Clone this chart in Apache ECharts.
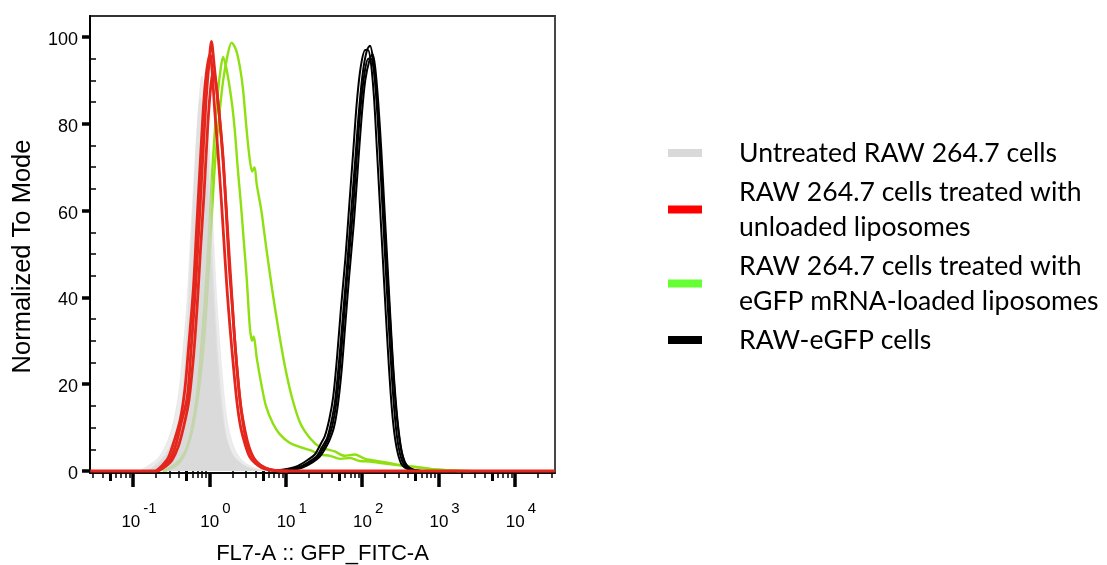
<!DOCTYPE html>
<html>
<head>
<meta charset="utf-8">
<script src="https://cdn.jsdelivr.net/npm/echarts@6/dist/echarts.min.js"></script>
<style>
html,body{margin:0;padding:0;background:#fff;}
#chart{width:1107px;height:565px;}
</style>
</head>
<body>
<div id="chart"></div>
<script>
// ---- Legend / series names ----
const seriesNames = [
  'Untreated RAW 264.7 cells',
  'RAW 264.7 cells treated with\nunloaded liposomes',
  'RAW 264.7 cells treated with\neGFP mRNA-loaded liposomes',
  'RAW-eGFP cells'
];

// ---- Axis ticks ----
const xTickMajor = [0.1, 1, 10, 100, 1000, 10000];
const xTickMid = [0.05, 0.5, 5, 50, 500, 5000];
const xTickMinor = [0.03, 0.04, 0.06, 0.07, 0.08, 0.09,
  0.2, 0.3, 0.4, 0.6, 0.7, 0.8, 0.9,
  2, 3, 4, 6, 7, 8, 9,
  20, 30, 40, 60, 70, 80, 90,
  200, 300, 400, 600, 700, 800, 900,
  2000, 3000, 4000, 6000, 7000, 8000, 9000,
  20000, 30000];
const yTickMajor = [0, 20, 40, 60, 80, 100];
const yTickMinor = [5, 10, 15, 25, 30, 35, 45, 50, 55, 65, 70, 75, 85, 90, 95];

// ---- Histogram data: x = log10(FL7-A intensity), y = % of mode ----
// Untreated (grey, 3 replicates)
const greyA_x = [-0.84, -0.71, -0.61, -0.52, -0.44, -0.37, -0.32, -0.27, -0.23, -0.18, -0.14, -0.10, -0.06, -0.02, 0.02, 0.06, 0.11, 0.17, 0.23, 0.31, 0.43, 0.60, 0.77];
const greyA_y = [0, 1, 2.5, 5, 9, 15, 25, 40, 55, 72, 84, 91, 86, 74, 58, 42, 27, 15, 7, 3.5, 1.5, 0.3, 0];
const greyB_x = [-0.91, -0.78, -0.67, -0.57, -0.49, -0.41, -0.35, -0.29, -0.25, -0.20, -0.16, -0.12, -0.08, -0.04, 0.00, 0.05, 0.10, 0.15, 0.22, 0.30, 0.40, 0.53, 0.69];
const greyB_y = [0, 1.5, 3, 6, 10, 17, 27, 40, 53, 68, 80, 86, 82, 71, 57, 40, 26, 15, 8, 4, 2, 0.6, 0];
const greyC_x = [-0.80, -0.67, -0.57, -0.48, -0.40, -0.33, -0.28, -0.23, -0.18, -0.12, -0.08, -0.06, -0.02, 0.02, 0.06, 0.11, 0.17, 0.23, 0.31, 0.40, 0.50, 0.63, 0.79];
const greyC_y = [0, 2, 4, 7, 11, 17, 26, 40, 57, 73, 81, 84, 80, 68, 52, 36, 22, 12, 6, 3, 1.5, 0.5, 0];

// Unloaded liposomes (red, 3 replicates)
const redA_x = [-1.56, -0.69, -0.61, -0.52, -0.44, -0.37, -0.29, -0.24, -0.19, -0.15, -0.10, -0.045, -0.005, 0.027, 0.06, 0.10, 0.14, 0.18, 0.22, 0.26, 0.30, 0.34, 0.39, 0.44, 0.49, 0.56, 0.62, 0.72, 0.82, 0.99, 4.52];
const redA_y = [0, 0, 1, 2.5, 6, 11, 17, 28, 40, 52, 68, 85, 94, 99, 94, 87, 80, 72, 60, 47, 38, 28, 18, 11, 6.5, 3.5, 2, 0.8, 0.2, 0, 0];
const redB_x = [-0.67, -0.58, -0.49, -0.41, -0.34, -0.27, -0.21, -0.16, -0.12, -0.07, -0.02, 0.02, 0.05, 0.08, 0.12, 0.16, 0.20, 0.24, 0.28, 0.32, 0.36, 0.41, 0.47, 0.52, 0.58, 0.65, 0.74, 0.86, 1.03];
const redB_y = [0, 1, 2.5, 5.5, 10, 16, 26, 38, 50, 64, 80, 89, 92, 90, 84, 76, 66, 55, 44, 33, 24, 15, 9, 5.5, 3, 1.6, 0.6, 0.15, 0];
const redC_x = [-0.70, -0.62, -0.54, -0.46, -0.38, -0.32, -0.27, -0.21, -0.17, -0.12, -0.07, -0.03, 0.01, 0.04, 0.07, 0.11, 0.15, 0.19, 0.23, 0.27, 0.31, 0.36, 0.41, 0.47, 0.53, 0.60, 0.69, 0.79, 0.96];
const redC_y = [0, 1.2, 3, 7, 12, 19, 29, 42, 55, 71, 86, 93, 96, 91, 83, 74, 64, 53, 42, 33, 25, 16, 10, 6, 3.2, 1.8, 0.7, 0.2, 0];

// eGFP mRNA-loaded liposomes (green, 2 replicates)
const greenA_x = [-0.58, -0.42, -0.32, -0.23, -0.15, -0.08, -0.03, 0.02, 0.07, 0.13, 0.18, 0.24, 0.29, 0.35, 0.40, 0.44, 0.48, 0.52, 0.56, 0.59, 0.62, 0.68, 0.74, 0.82, 0.90, 0.99, 1.08, 1.19, 1.32, 1.45, 1.64, 1.77, 1.90, 2.04, 2.23, 2.43, 2.62, 2.82, 3.02, 3.21, 3.41];
const greenA_y = [0, 1.5, 4, 9, 17, 28, 40, 55, 70, 82, 90, 96, 98.7, 97, 93, 88, 80, 73, 69, 70, 66, 60, 52, 42, 33, 24, 17, 11, 7.5, 5.5, 4.5, 3.5, 3.8, 2.8, 2.2, 1.6, 1.0, 0.6, 0.3, 0.1, 0];
const greenB_x = [-0.61, -0.45, -0.33, -0.24, -0.16, -0.10, -0.045, -0.005, 0.03, 0.07, 0.11, 0.15, 0.18, 0.22, 0.26, 0.30, 0.335, 0.37, 0.41, 0.45, 0.49, 0.53, 0.56, 0.58, 0.62, 0.68, 0.74, 0.83, 0.92, 1.05, 1.19, 1.32, 1.45, 1.58, 1.71, 1.84, 1.97, 2.10, 2.30, 2.49, 2.69, 2.89, 3.08, 3.28];
const greenB_y = [0, 1.5, 4, 9, 18, 30, 43, 55, 67, 78, 87, 93, 95.4, 93, 89, 84, 78, 70, 62, 53, 44, 33, 30, 31, 26, 20, 15, 11, 8.5, 6.5, 5.5, 4.8, 3.8, 3.5, 2.8, 3.0, 2.3, 2.2, 1.7, 1.3, 1.0, 0.5, 0.2, 0];

// RAW-eGFP (black, 4 replicates)
const blackA_x = [0.86, 1.055, 1.186, 1.317, 1.408, 1.474, 1.539, 1.592, 1.644, 1.696, 1.749, 1.801, 1.853, 1.906, 1.958, 2.010, 2.063, 2.102, 2.141, 2.181, 2.220, 2.259, 2.298, 2.338, 2.377, 2.416, 2.455, 2.495, 2.547, 2.625, 2.757];
const blackA_y = [0, 0.4, 1, 2.3, 3.5, 5.5, 7.5, 11, 16, 25, 36, 47, 59, 71, 83, 92, 97, 98, 95, 87, 76, 63, 50, 37, 25, 15, 8, 4, 1.5, 0.4, 0];
const blackB_x = [0.89, 1.09, 1.22, 1.35, 1.44, 1.51, 1.57, 1.63, 1.68, 1.73, 1.78, 1.83, 1.89, 1.94, 1.99, 2.04, 2.10, 2.135, 2.17, 2.21, 2.25, 2.29, 2.33, 2.37, 2.41, 2.45, 2.49, 2.53, 2.58, 2.66, 2.79];
const blackB_y = [0, 0.3, 0.8, 2, 3.2, 5, 7, 10, 15, 23, 34, 45, 57, 69, 81, 90, 95, 96, 93, 85, 74, 61, 48, 35, 23, 14, 7.5, 3.5, 1.3, 0.3, 0];
const blackC_x = [0.83, 1.03, 1.16, 1.29, 1.38, 1.45, 1.51, 1.57, 1.62, 1.67, 1.72, 1.78, 1.83, 1.88, 1.93, 1.98, 2.04, 2.076, 2.115, 2.155, 2.19, 2.23, 2.27, 2.31, 2.35, 2.39, 2.43, 2.47, 2.52, 2.60, 2.73];
const blackC_y = [0, 0.5, 1.2, 2.6, 3.8, 6, 8, 12, 17, 26, 37, 49, 61, 73, 85, 93, 97, 97, 94, 86, 75, 62, 49, 36, 24, 14, 7.5, 3.8, 1.4, 0.4, 0];
const blackD_x = [0.87, 1.07, 1.20, 1.33, 1.42, 1.49, 1.55, 1.61, 1.66, 1.71, 1.76, 1.81, 1.87, 1.92, 1.97, 2.025, 2.08, 2.115, 2.155, 2.195, 2.235, 2.275, 2.315, 2.355, 2.395, 2.435, 2.475, 2.515, 2.565, 2.645, 2.78];
const blackD_y = [0, 0.4, 0.9, 2.1, 3.3, 5.2, 7.2, 10.5, 15.5, 24, 35, 46, 58, 70, 82, 91, 95, 95, 92, 85, 75, 63, 50, 38, 26, 16, 9, 4.5, 1.8, 0.5, 0];

// ---- Build chart ----
const AX_FONT = '"Liberation Sans", Arial, sans-serif';
const COL = { grey: '#d9d9d9', red: '#e5261c', green: '#8ee010', black: '#000000' };
const LEGEND_COL = ['#d9d9d9', '#ff0000', '#66ff33', '#000000'];
const X_MIN = Math.pow(10, -1.563), X_MAX = Math.pow(10, 4.524);

function pairs(xs, ys) { return xs.map((l, i) => [Math.pow(10, l), ys[i]]); }
function line(name, xs, ys, color, width, z) {
  return { type: 'line', name, data: pairs(xs, ys), symbol: 'none', smooth: 0.3, z,
    lineStyle: { color, width }, itemStyle: { color }, emphasis: { disabled: true } };
}
function area(name, xs, ys) {
  return { type: 'line', name, data: pairs(xs, ys), symbol: 'none', smooth: 0.3, z: 3,
    lineStyle: { color: '#dcdcdc', width: 0.8, opacity: 0.5 }, itemStyle: { color: COL.grey },
    areaStyle: { color: '#d2d2d2', opacity: 0.42 }, emphasis: { disabled: true } };
}

const series = [
  line(seriesNames[2], greenA_x, greenA_y, COL.green, 2.4, 2),
  line(seriesNames[2], greenB_x, greenB_y, COL.green, 2.4, 2),
  area(seriesNames[0], greyA_x, greyA_y),
  area(seriesNames[0], greyB_x, greyB_y),
  area(seriesNames[0], greyC_x, greyC_y),
  line(seriesNames[3], blackA_x, blackA_y, COL.black, 2, 4),
  line(seriesNames[3], blackB_x, blackB_y, COL.black, 2, 4),
  line(seriesNames[3], blackC_x, blackC_y, COL.black, 2, 4),
  line(seriesNames[3], blackD_x, blackD_y, COL.black, 2, 4),
  line(seriesNames[1], redC_x, redC_y, COL.red, 2.8, 5),
  line(seriesNames[1], redB_x, redB_y, COL.red, 2.8, 5),
  line(seriesNames[1], redA_x, redA_y, COL.red, 2.8, 5)
];

function xAxisBase(extra) {
  return Object.assign({ type: 'log', logBase: 10, min: X_MIN, max: X_MAX, gridIndex: 0, position: 'bottom',
    splitLine: { show: false }, minorTick: { show: false }, axisLine: { show: false },
    axisLabel: { show: false }, axisTick: { show: false } }, extra);
}

const option = {
  animation: false,
  backgroundColor: '#ffffff',
  grid: { left: 90, top: 16, width: 465, height: 457, show: true, borderColor: '#333', borderWidth: 1.8,
    containLabel: false, outerBoundsMode: 'none' },
  xAxis: [
    xAxisBase({
      axisLine: { show: true, onZero: false, lineStyle: { color: '#000', width: 1.5 } },
      axisTick: { show: true, customValues: xTickMajor, length: 14, lineStyle: { color: '#000', width: 3.5 } },
      axisLabel: { show: true, customValues: xTickMajor, margin: 28, padding: [0, 0, 0, 12],
        formatter: v => '{b|10}{s|' + Math.round(Math.log10(v)) + '}',
        rich: {
          b: { fontFamily: AX_FONT, fontSize: 17, color: '#000', lineHeight: 30, verticalAlign: 'bottom' },
          s: { fontFamily: AX_FONT, fontSize: 15, color: '#000', lineHeight: 28, verticalAlign: 'top', padding: [0, 0, 0, 3] }
        } },
      name: 'FL7-A :: GFP_FITC-A', nameLocation: 'middle', nameGap: 70,
      nameTextStyle: { fontFamily: AX_FONT, fontSize: 22, color: '#000' }
    }),
    xAxisBase({ axisTick: { show: true, customValues: xTickMid, length: 10, lineStyle: { color: '#000', width: 3 } } }),
    xAxisBase({ axisTick: { show: true, customValues: xTickMinor, length: 7, lineStyle: { color: '#000', width: 1.5 } } })
  ],
  yAxis: [
    { type: 'value', min: -0.46, max: 104.84, gridIndex: 0,
      splitLine: { show: false },
      axisLine: { show: true, onZero: false, lineStyle: { color: '#000', width: 2 } },
      axisTick: { show: true, customValues: yTickMajor, length: 8, lineStyle: { color: '#000', width: 3.5 } },
      axisLabel: { customValues: yTickMajor, margin: 12, verticalAlign: 'top', lineHeight: 6,
        fontFamily: AX_FONT, fontSize: 18, color: '#000' },
      name: 'Normalized To Mode', nameLocation: 'middle', nameGap: 54, nameRotate: 90,
      nameTextStyle: { fontFamily: AX_FONT, fontSize: 25.5, color: '#000', padding: [0, 24, 0, 0] } },
    { type: 'value', min: -0.46, max: 104.84, gridIndex: 0, position: 'left',
      splitLine: { show: false }, axisLine: { show: false }, axisLabel: { show: false },
      axisTick: { show: true, inside: true, customValues: yTickMinor, length: 6, lineStyle: { color: '#000', width: 1.5 } } }
  ],
  legend: {
    orient: 'vertical', left: 668, top: 135.5, padding: 0, itemGap: 4,
    itemWidth: 34, itemHeight: 8, icon: 'rect', selectedMode: false,
    textStyle: { fontFamily: 'Lato, "Open Sans", sans-serif', fontSize: 26.6, lineHeight: 35, color: '#000', padding: [0, 0, 0, 32] },
    data: seriesNames.map((n, i) => ({ name: n, icon: 'rect', itemStyle: { color: LEGEND_COL[i], borderWidth: 0 } }))
  },
  series: series
};

const chart = echarts.init(document.getElementById('chart'), null, { renderer: 'canvas' });
chart.setOption(option);
</script>
</body>
</html>
